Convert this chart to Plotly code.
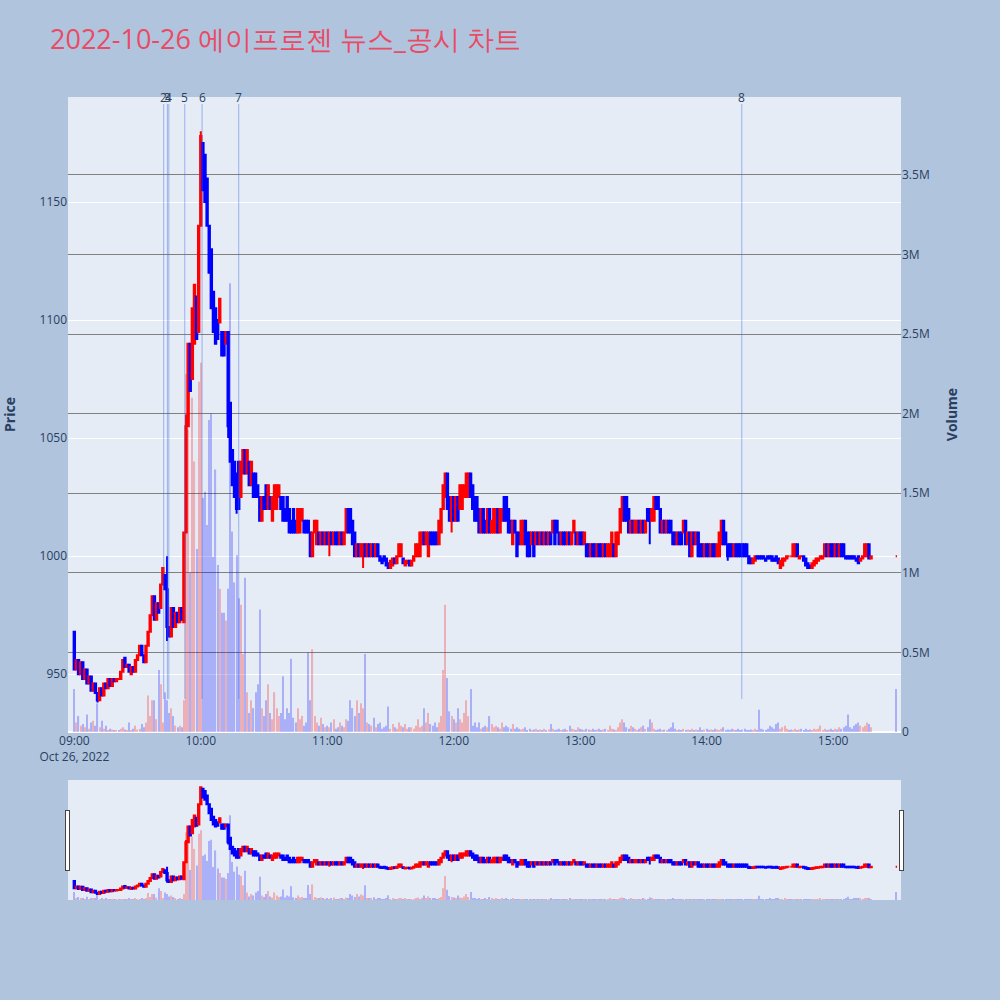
import pandas as pd
import plotly.graph_objects as go
from plotly.subplots import make_subplots

TITLE = "2022-10-26 에이프로젠 뉴스_공시 차트"

# ---- 1-minute candles 09:00 .. 15:18, then the 15:30 closing print ----
opens = [
    968, 952, 956, 950, 955, 948, 952, 946, 949, 943,
    946, 942, 939, 944, 941, 946, 944, 948, 945, 948,
    947, 948, 948, 951, 957, 953, 954, 950, 953, 951,
    956, 958, 962, 958, 955, 962, 968, 975, 983, 973,
    980, 978, 988, 992, 986, 970, 966, 978, 970, 976,
    972, 978, 972, 1010, 1055, 1090, 1075, 1090, 1110, 1095,
    1140, 1175, 1170, 1160, 1140, 1130, 1112, 1105, 1100, 1099,
    1095, 1095, 1090, 1095, 1065, 1045, 1040, 1035, 1040, 1025,
    1035, 1045, 1035, 1040, 1030, 1035, 1035, 1030, 1025, 1015,
    1025, 1030, 1020, 1025, 1015, 1020, 1020, 1025, 1025, 1025,
    1020, 1025, 1020, 1015, 1020, 1015, 1010, 1010, 1015, 1015,
    1015, 1015, 1010, 1000, 1010, 1005, 1010, 1005, 1010, 1005,
    1010, 1005, 1010, 1005, 1010, 1010, 1005, 1010, 1005, 1010,
    1020, 1020, 1015, 1010, 1000, 1005, 1000, 1000, 1005, 1000,
    1005, 1000, 1005, 1000, 1005, 1000, 999, 1000, 999, 997,
    995, 996, 999, 997, 1000, 1000, 999, 996, 997, 998,
    996, 998, 1000, 1000, 1000, 1005, 1010, 1005, 1000, 1010,
    1010, 1010, 1010, 1005, 1010, 1020, 1025, 1035, 1025, 1015,
    1025, 1015, 1025, 1020, 1020, 1025, 1025, 1025, 1035, 1030,
    1025, 1025, 1020, 1010, 1020, 1015, 1010, 1020, 1010, 1010,
    1010, 1020, 1010, 1015, 1025, 1025, 1020, 1015, 1005, 1015,
    1010, 1010, 1005, 1005, 1015, 1010, 1010, 1005, 1010, 1005,
    1010, 1005, 1010, 1005, 1010, 1005, 1010, 1010, 1015, 1015,
    1010, 1005, 1010, 1010, 1005, 1010, 1005, 1010, 1010, 1005,
    1010, 1010, 1005, 1005, 1005, 1000, 1005, 1005, 1000, 1005,
    1005, 1000, 1005, 1000, 1000, 1000, 1005, 1000, 1005, 1010,
    1015, 1025, 1025, 1020, 1010, 1015, 1010, 1010, 1015, 1010,
    1015, 1010, 1020, 1020, 1015, 1015, 1025, 1025, 1020, 1010,
    1015, 1010, 1015, 1015, 1010, 1010, 1005, 1010, 1010, 1010,
    1015, 1005, 1010, 1000, 1010, 1005, 1010, 1005, 1005, 1000,
    1005, 1005, 1000, 1005, 1005, 1000, 1000, 1005, 1015, 1010,
    1005, 1005, 1005, 1000, 1005, 1005, 1005, 1005, 1005, 1005,
    1000, 999, 997, 998, 1000, 1000, 1000, 1000, 999, 1000,
    1000, 1000, 999, 1000, 999, 995, 996, 998, 999, 1000,
    1000, 1000, 1000, 1005, 999, 1000, 1000, 999, 997, 996,
    995, 996, 997, 998, 999, 999, 1000, 1005, 1000, 1005,
    1005, 1000, 1005, 1000, 1005, 1005, 1000, 1000, 1000, 1000,
    1000, 999, 1000, 998, 999, 1000, 1000, 1005, 999,
    1000,
]
closes = [
    952, 956, 950, 955, 948, 952, 946, 949, 943, 946,
    942, 939, 944, 941, 946, 944, 948, 945, 948, 947,
    948, 948, 951, 956, 953, 954, 951, 953, 951, 956,
    958, 962, 958, 955, 962, 968, 975, 983, 973, 980,
    976, 988, 995, 986, 970, 966, 978, 970, 976, 972,
    978, 973, 1010, 1055, 1090, 1070, 1105, 1115, 1092, 1140,
    1178, 1155, 1150, 1140, 1120, 1105, 1095, 1090, 1092, 1109,
    1085, 1085, 1095, 1055, 1040, 1030, 1025, 1020, 1020, 1040,
    1045, 1035, 1045, 1030, 1040, 1025, 1025, 1025, 1015, 1025,
    1020, 1020, 1030, 1020, 1025, 1030, 1030, 1030, 1020, 1015,
    1015, 1015, 1010, 1010, 1010, 1010, 1020, 1020, 1020, 1010,
    1010, 1010, 1000, 1010, 1015, 1015, 1005, 1010, 1005, 1010,
    1005, 1010, 1005, 1010, 1005, 1005, 1010, 1005, 1010, 1020,
    1010, 1010, 1005, 1000, 1005, 1000, 1005, 1005, 1000, 1005,
    1000, 1005, 1000, 1005, 1000, 998, 997, 998, 996, 995,
    998, 999, 997, 1000, 1005, 1005, 997, 998, 998, 996,
    998, 1000, 1005, 1005, 1010, 1010, 1005, 1010, 1010, 1005,
    1005, 1005, 1005, 1015, 1020, 1030, 1035, 1020, 1015, 1025,
    1015, 1025, 1015, 1030, 1030, 1030, 1035, 1035, 1025, 1020,
    1015, 1015, 1010, 1020, 1010, 1010, 1020, 1010, 1015, 1020,
    1020, 1010, 1020, 1020, 1015, 1015, 1010, 1010, 1015, 1010,
    1000, 1005, 1015, 1015, 1005, 1000, 1000, 1010, 1000, 1010,
    1005, 1010, 1005, 1010, 1005, 1010, 1005, 1015, 1005, 1010,
    1005, 1010, 1005, 1005, 1010, 1005, 1010, 1015, 1005, 1010,
    1005, 1005, 1010, 1000, 1000, 1005, 1000, 1000, 1005, 1000,
    1000, 1005, 1000, 1005, 1005, 1010, 1000, 1010, 1010, 1020,
    1025, 1015, 1015, 1010, 1015, 1010, 1015, 1015, 1010, 1015,
    1010, 1015, 1015, 1015, 1020, 1025, 1020, 1020, 1010, 1015,
    1010, 1015, 1010, 1010, 1005, 1005, 1010, 1005, 1005, 1015,
    1005, 1010, 1000, 1010, 1005, 1010, 1000, 1000, 1000, 1005,
    1000, 1000, 1005, 1000, 1000, 1005, 1010, 1015, 1005, 1005,
    1000, 1000, 1000, 1005, 1000, 1000, 1000, 1000, 1000, 1000,
    997, 997, 999, 1000, 999, 999, 999, 999, 998, 999,
    999, 998, 998, 998, 997, 998, 999, 999, 1000, 1000,
    1000, 1005, 1005, 1000, 1000, 1000, 998, 996, 995, 995,
    997, 998, 999, 999, 1000, 1000, 1005, 1000, 1005, 1000,
    1000, 1005, 1000, 1005, 1000, 1000, 999, 999, 999, 999,
    999, 998, 997, 999, 1000, 1005, 1005, 999, 1000,
    1000,
]
# wicks that reach beyond the body (minute index -> (high, low))
wicks = {
    11: (942, 938), 44: (1000, 964), 53: (1060, 1010), 60: (1180, 1140),
    73: (1095, 1050), 77: (1035, 1018), 121: (1010, 1000), 137: (1005, 995),
    179: (1025, 1010), 273: (1020, 1005), 310: (1005, 998),
}
# volume in thousands of shares
volume_k = [
    270, 60, 100, 40, 50, 30, 110, 20, 60, 70,
    40, 180, 30, 70, 20, 40, 10, 20, 15, 10,
    10, 8, 20, 30, 15, 10, 60, 12, 20, 40,
    15, 20, 50, 30, 60, 230, 100, 200, 200, 80,
    390, 300, 60, 250, 200, 120, 150, 100, 40, 30,
    40, 30, 200, 2250, 1900, 1000, 2100, 1700, 1150, 2200,
    2320, 1470, 1510, 1300, 1960, 2000, 1100, 1650, 1050, 900,
    750, 750, 700, 900, 2820, 1260, 940, 1110, 840, 800,
    490, 970, 250, 120, 200, 150, 250, 300, 770, 150,
    100, 200, 300, 120, 80, 250, 150, 100, 120, 350,
    80, 150, 120, 460, 90, 60, 150, 80, 100, 40,
    60, 500, 200, 520, 100, 60, 40, 90, 50, 30,
    40, 30, 60, 80, 20, 30, 60, 40, 30, 80,
    70, 200, 150, 100, 200, 120, 180, 150, 490, 60,
    50, 40, 90, 30, 50, 60, 20, 30, 40, 160,
    20, 50, 30, 20, 60, 40, 30, 50, 20, 30,
    30, 20, 40, 80, 30, 40, 150, 60, 120, 50,
    40, 60, 30, 60, 100, 390, 800, 340, 130, 100,
    80, 60, 150, 80, 60, 120, 200, 100, 270, 40,
    60, 30, 60, 20, 30, 40, 30, 100, 50, 30,
    40, 30, 20, 60, 30, 40, 30, 20, 50, 20,
    30, 20, 15, 20, 30, 10, 20, 10, 15, 20,
    10, 15, 10, 20, 10, 15, 50, 20, 10, 15,
    20, 10, 15, 20, 10, 40, 20, 15, 10, 30,
    20, 15, 10, 20, 15, 10, 20, 10, 15, 20,
    10, 15, 20, 10, 40, 20, 15, 10, 30, 60,
    80, 60, 30, 20, 40, 30, 20, 10, 20, 30,
    40, 20, 30, 80, 60, 20, 10, 15, 20, 10,
    15, 10, 20, 30, 60, 20, 10, 15, 10, 20,
    10, 15, 10, 20, 10, 15, 10, 30, 10, 15,
    20, 10, 15, 10, 20, 15, 10, 20, 30, 10,
    15, 10, 20, 15, 10, 20, 10, 15, 20, 10,
    10, 15, 10, 20, 10, 140, 20, 15, 10, 20,
    40, 30, 20, 50, 60, 20, 30, 40, 20, 10,
    15, 10, 20, 10, 15, 20, 10, 20, 10, 15,
    10, 20, 15, 20, 40, 10, 20, 10, 15, 20,
    10, 20, 15, 30, 20, 30, 40, 110, 30, 20,
    40, 50, 60, 40, 30, 40, 60, 50, 30,
    270,
]

# news / disclosure markers
news_labels = ["2", "3", "4", "5", "6", "7", "8"]
news_times = ["09:42:24", "09:44:10", "09:44:50", "09:52:24", "10:00:36", "10:18:00", "14:16:40"]

DAY = "2022-10-26"
n_regular = len(opens) - 1
times = list(pd.date_range(f"{DAY} 09:00", periods=n_regular, freq="min")) + [pd.Timestamp(f"{DAY} 15:30")]

highs = [max(o, c) for o, c in zip(opens, closes)]
lows = [min(o, c) for o, c in zip(opens, closes)]
for i, (h, l) in wicks.items():
    highs[i] = max(highs[i], h)
    lows[i] = min(lows[i], l)
volumes = [v * 1000 for v in volume_k]
vol_colors = ["red" if c > o else "blue" for o, c in zip(opens, closes)]

fig = make_subplots(specs=[[{"secondary_y": True}]])
fig.add_trace(go.Candlestick(
    x=times, open=opens, high=highs, low=lows, close=closes,
    increasing=dict(line=dict(color="red", width=2), fillcolor="red"),
    decreasing=dict(line=dict(color="blue", width=2), fillcolor="blue"),
    name="Price", showlegend=False,
), secondary_y=False)
fig.add_trace(go.Bar(
    x=times, y=volumes, marker=dict(color=vol_colors, line=dict(width=0)),
    opacity=0.25, name="Volume", showlegend=False,
), secondary_y=True)

for lab, t in zip(news_labels, news_times):
    ts = f"{DAY} {t}"
    fig.add_shape(type="line", xref="x", yref="paper", x0=ts, x1=ts, y0=0.052, y1=0.989,
                  line=dict(color="rgba(65,105,225,0.45)", width=1))
    fig.add_annotation(x=ts, xref="x", y=1, yref="paper", yanchor="middle", text=lab,
                       showarrow=False, font=dict(size=12, color="#2a3f5f"))

x_range = [f"{DAY} 08:57:00", f"{DAY} 15:32:12"]
fig.update_layout(
    width=1000, height=1000,
    title=dict(text=TITLE, x=0.05, xanchor="left", y=0.96, yanchor="middle",
               font=dict(size=27, color="#E94B64")),
    paper_bgcolor="#B0C4DE",
    plot_bgcolor="#E5ECF6",
    margin=dict(l=68, r=99, t=97, b=100),
    showlegend=False,
    bargap=0.45,
    boxgap=0.05,
)
fig.update_xaxes(domain=[0, 1], type="date", range=x_range, showgrid=False,
                 rangeslider=dict(visible=True, range=x_range, autorange=False, bgcolor="#E5ECF6"))
fig.update_yaxes(title_text="<b>Price</b>", title_standoff=22, automargin=False,
                 range=[925.5, 1194.5], gridcolor="white", showgrid=True, secondary_y=False)
fig.update_yaxes(title_text="<b>Volume</b>", title_standoff=18, automargin=False,
                 range=[0, 3.99e6], gridcolor="gray", showgrid=True, zeroline=True,
                 zerolinecolor="white", secondary_y=True)

fig.write_html("out.html", config={"displayModeBar": False},
               post_script="document.body.style.margin='0px';")
